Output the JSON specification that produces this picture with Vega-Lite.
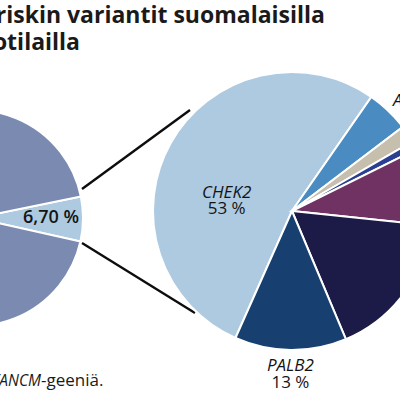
{
  "$schema": "https://vega.github.io/schema/vega-lite/v6.json",
  "description": "Riskivarianttien osuudet: kaikki potilaat ja varianttien jakauma geeneittäin",
  "width": 400,
  "height": 400,
  "padding": 0,
  "autosize": {"type": "none"},
  "background": "white",
  "config": {
    "view": {"stroke": null},
    "font": "Open Sans",
    "text": {"font": "Open Sans", "color": "#141414"}
  },
  "datasets": {
    "kaikki": [
      {"ryhma": "Variantti", "osuus": 6.7, "jarjestys": 1, "nimike": "6,70 %"},
      {"ryhma": "Ei varianttia", "osuus": 93.3, "jarjestys": 2, "nimike": ""}
    ],
    "geenit": [
      {"ryhma": "CHEK2", "osuus": 53, "jarjestys": 1, "nimike": "53 %"},
      {"ryhma": "ATM", "osuus": 5, "jarjestys": 2, "nimike": "5 %"},
      {"ryhma": "RAD51C", "osuus": 2, "jarjestys": 3, "nimike": "2 %"},
      {"ryhma": "RAD51D", "osuus": 1, "jarjestys": 4, "nimike": "1 %"},
      {"ryhma": "BRCA1", "osuus": 9, "jarjestys": 5, "nimike": "9 %"},
      {"ryhma": "BRCA2", "osuus": 17, "jarjestys": 6, "nimike": "17 %"},
      {"ryhma": "PALB2", "osuus": 13, "jarjestys": 7, "nimike": "13 %"}
    ],
    "viivat": [
      {"x": 82, "y": 189, "x2": 190, "y2": 110},
      {"x": 82, "y": 243, "x2": 195, "y2": 313}
    ]
  },
  "resolve": {"scale": {"theta": "independent"}},
  "layer": [
    {
      "data": {"name": "viivat"},
      "mark": {"type": "rule", "color": "#0d0d0d", "strokeWidth": 2.4},
      "encoding": {
        "x": {"field": "x", "type": "quantitative", "axis": null, "scale": {"domain": [0, 400], "range": [0, 400], "nice": false, "zero": false}},
        "y": {"field": "y", "type": "quantitative", "axis": null, "scale": {"domain": [0, 400], "range": [0, 400], "nice": false, "zero": false}},
        "x2": {"field": "x2"},
        "y2": {"field": "y2"}
      }
    },
    {
      "data": {"name": "kaikki"},
      "encoding": {
        "x": {"datum": -25, "type": "quantitative", "axis": null, "scale": {"domain": [0, 400], "range": [0, 400], "nice": false, "zero": false}},
        "y": {"datum": 218, "type": "quantitative", "axis": null, "scale": {"domain": [0, 400], "range": [0, 400], "nice": false, "zero": false}},
        "theta": {"field": "osuus", "type": "quantitative", "stack": true, "scale": {"range": [1.37, 7.653]}},
        "order": {"field": "jarjestys", "type": "quantitative"}
      },
      "layer": [
        {
          "mark": {"type": "arc", "radius": 108, "stroke": "white", "strokeWidth": 2},
          "encoding": {
            "color": {
              "field": "ryhma", "type": "nominal", "legend": null,
              "scale": {
                "domain": ["Ei varianttia", "Variantti", "CHEK2", "ATM", "RAD51C", "RAD51D", "BRCA1", "BRCA2", "PALB2"],
                "range": ["#7a8ab1", "#adcae0", "#adcae0", "#4a8cc2", "#c6bfad", "#2b3f92", "#6f3262", "#1c1a47", "#173f6f"]
              }
            }
          }
        },
        {
          "mark": {"type": "text", "radius": 76, "dy": -1, "fontSize": 18, "fontWeight": 600},
          "encoding": {"text": {"field": "nimike"}}
        }
      ]
    },
    {
      "data": {"name": "geenit"},
      "encoding": {
        "x": {"datum": 292, "type": "quantitative", "axis": null, "scale": {"domain": [0, 400], "range": [0, 400], "nice": false, "zero": false}},
        "y": {"datum": 211, "type": "quantitative", "axis": null, "scale": {"domain": [0, 400], "range": [0, 400], "nice": false, "zero": false}},
        "theta": {"field": "osuus", "type": "quantitative", "stack": true, "scale": {"range": [3.5605, 9.8437]}},
        "order": {"field": "jarjestys", "type": "quantitative"}
      },
      "layer": [
        {
          "mark": {"type": "arc", "radius": 139, "stroke": "white", "strokeWidth": 2},
          "encoding": {
            "color": {"field": "ryhma", "type": "nominal", "legend": null}
          }
        },
        {
          "mark": {"type": "text", "radius": 75, "dy": 19, "fontSize": 17, "fontStyle": "italic"},
          "encoding": {"text": {"condition": {"test": "datum.ryhma === 'CHEK2'", "field": "ryhma"}, "value": ""}}
        },
        {
          "mark": {"type": "text", "radius": 75, "dy": 35, "fontSize": 17},
          "encoding": {"text": {"condition": {"test": "datum.ryhma === 'CHEK2'", "field": "nimike"}, "value": ""}}
        },
        {
          "mark": {"type": "text", "radius": 155, "dy": 0, "fontSize": 17, "fontStyle": "italic"},
          "encoding": {"text": {"condition": {"test": "datum.ryhma === 'PALB2'", "field": "ryhma"}, "value": ""}}
        },
        {
          "mark": {"type": "text", "radius": 155, "dy": 17, "fontSize": 17},
          "encoding": {"text": {"condition": {"test": "datum.ryhma === 'PALB2'", "field": "nimike"}, "value": ""}}
        },
        {
          "mark": {"type": "text", "radius": 146, "dy": -5, "align": "left", "fontSize": 17, "fontStyle": "italic"},
          "encoding": {"text": {"condition": {"test": "datum.ryhma !== 'CHEK2' && datum.ryhma !== 'PALB2'", "field": "ryhma"}, "value": ""}}
        },
        {
          "mark": {"type": "text", "radius": 146, "dy": -5, "dx": 48, "align": "left", "fontSize": 17},
          "encoding": {"text": {"condition": {"test": "datum.ryhma !== 'CHEK2' && datum.ryhma !== 'PALB2'", "field": "nimike"}, "value": ""}}
        }
      ]
    },
    {
      "data": {"values": [{"teksti": "Rintasyöpäriskin variantit suomalaisilla"}]},
      "mark": {"type": "text", "align": "right", "baseline": "alphabetic", "fontSize": 23, "fontWeight": "bold", "color": "#1a1a1a"},
      "encoding": {
        "x": {"datum": 325, "type": "quantitative", "axis": null, "scale": {"domain": [0, 400], "range": [0, 400], "nice": false, "zero": false}},
        "y": {"datum": 23, "type": "quantitative", "axis": null, "scale": {"domain": [0, 400], "range": [0, 400], "nice": false, "zero": false}},
        "text": {"field": "teksti"}
      }
    },
    {
      "data": {"values": [{"teksti": "potilailla"}]},
      "mark": {"type": "text", "align": "right", "baseline": "alphabetic", "fontSize": 23, "fontWeight": "bold", "color": "#1a1a1a"},
      "encoding": {
        "x": {"datum": 80, "type": "quantitative", "axis": null, "scale": {"domain": [0, 400], "range": [0, 400], "nice": false, "zero": false}},
        "y": {"datum": 50, "type": "quantitative", "axis": null, "scale": {"domain": [0, 400], "range": [0, 400], "nice": false, "zero": false}},
        "text": {"field": "teksti"}
      }
    },
    {
      "data": {"values": [{"teksti": "FANCM"}]},
      "mark": {"type": "text", "align": "right", "baseline": "alphabetic", "fontSize": 15.5, "fontStyle": "italic", "color": "#1a1a1a"},
      "encoding": {
        "x": {"datum": 41, "type": "quantitative", "axis": null, "scale": {"domain": [0, 400], "range": [0, 400], "nice": false, "zero": false}},
        "y": {"datum": 386, "type": "quantitative", "axis": null, "scale": {"domain": [0, 400], "range": [0, 400], "nice": false, "zero": false}},
        "text": {"field": "teksti"}
      }
    },
    {
      "data": {"values": [{"teksti": "-geeniä."}]},
      "mark": {"type": "text", "align": "left", "baseline": "alphabetic", "fontSize": 17, "color": "#1a1a1a"},
      "encoding": {
        "x": {"datum": 41, "type": "quantitative", "axis": null, "scale": {"domain": [0, 400], "range": [0, 400], "nice": false, "zero": false}},
        "y": {"datum": 386, "type": "quantitative", "axis": null, "scale": {"domain": [0, 400], "range": [0, 400], "nice": false, "zero": false}},
        "text": {"field": "teksti"}
      }
    }
  ]
}
